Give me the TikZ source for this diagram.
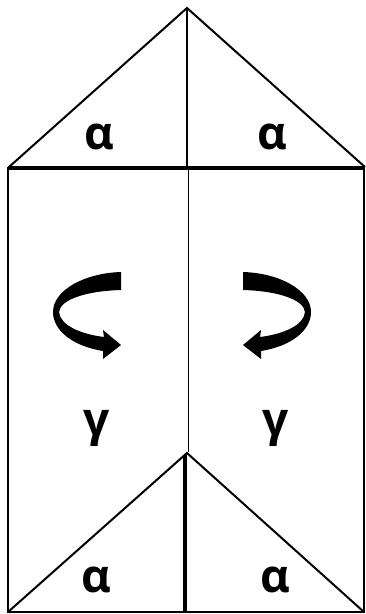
\documentclass[tikz,border=0pt]{standalone}
\usepackage{fontspec}
\setmainfont{Open Sans}
\begin{document}
\begin{tikzpicture}[x=1pt,y=-1pt,
  thinline/.style={line width=2pt,line join=miter},
  thickline/.style={line width=4pt},
  hairline/.style={line width=1pt},
  lbl/.style={font=\fontsize{46}{46}\selectfont\bfseries,inner sep=0pt,anchor=base}]
\useasboundingbox (0,0) rectangle (366,614);
% top triangle
\coordinate (tl) at (9,167);
\coordinate (ta) at (187,8);
\coordinate (tr) at (365,167);
\draw[thinline] (tl) -- (ta) -- (tr);
\draw[thinline] (ta) -- (187,167);
\draw[thickline] (8,168) -- (365,168);
% rectangle
\draw[line width=2.5pt] (8,168) rectangle (364,612);
\draw[hairline] (188,170) -- (188,452);
% bottom triangle
\coordinate (bl) at (8,612);
\coordinate (ba) at (187,453);
\coordinate (br) at (364,612);
\draw[thinline] (bl) -- (ba) -- (br);
\draw[thickline] (185,455) -- (185,612);
% labels
\node[lbl] (a1) at (99.5,149) {α};
\node[lbl] (a2) at (272,149) {α};
\node[lbl] (a3) at (96,592) {α};
\node[lbl] (a4) at (275,592) {α};
\node[lbl] (g1) at (97,435) {γ};
\node[lbl] (g2) at (276,435) {γ};
% rotation arrows
\def\rotarrow{(121,272) -- (121,290)
  .. controls (85,291) and (60,300) .. (59,312)
  .. controls (60,325) and (80,334) .. (104,337)
  -- (103,330) -- (121,345) -- (103,359) -- (103,351)
  .. controls (72,346) and (53,330) .. (53,312)
  .. controls (53,290) and (85,273) .. (121,272) -- cycle}
\fill[black] \rotarrow;
\begin{scope}[shift={(364,0)},xscale=-1]
\fill[black] \rotarrow;
\end{scope}
\end{tikzpicture}
\end{document}
